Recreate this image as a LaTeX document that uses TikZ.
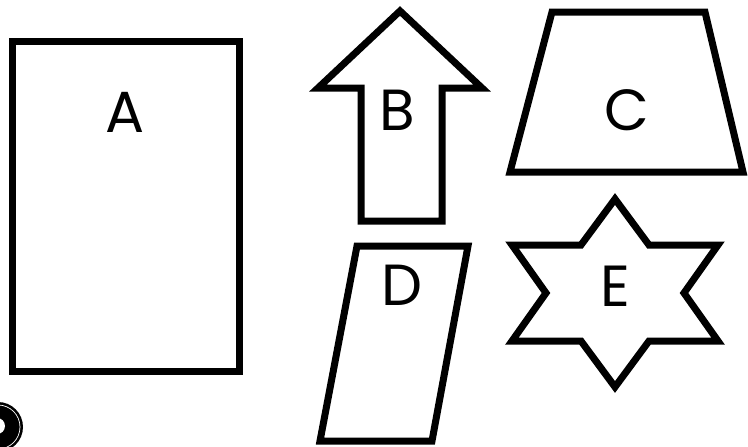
\documentclass[tikz,border=0pt]{standalone}
\usepackage{fontspec}
\setmainfont{Poppins}
\begin{document}
\begin{tikzpicture}[x=1pt, y=-1pt,
  outline/.style={draw=black, line width=7pt, line join=miter},
  letter/.style={font=\fontsize{58}{60}\selectfont, inner sep=0pt}]

\useasboundingbox (0,0) rectangle (748,447);

% Rectangle A
\draw[outline] (12,41) rectangle (239,371);
\node[letter] (labA) at (125,112) {A};

% Arrow B
\draw[outline] (400,11) -- (482,88) -- (442,88) -- (442,221) -- (361,221)
  -- (361,88) -- (318,88) -- cycle;
\node[letter] (labB) at (397,110) {B};

% Trapezoid C
\draw[outline] (552,12) -- (705,12) -- (743,172) -- (510,172) -- cycle;
\node[letter] (labC) at (627,110) {C};

% Parallelogram D
\draw[outline] (357,246) -- (468,246) -- (432,441) -- (320,441) -- cycle;
\node[letter] (labD) at (402,285) {D};

% Star E
\draw[outline] (615,199) -- (649,245) -- (718,245) -- (684,293) -- (718,341)
  -- (649,341) -- (615,387) -- (581,341) -- (512,341) -- (546,293)
  -- (512,245) -- (581,245) -- cycle;
\node[letter] (labE) at (615,286) {E};

% Badge (cut off)
\fill[black] (-2,427) circle (25);
\draw[white, line width=0.7pt] (-2,427) circle (22);
\fill[white] (-3,426) circle (8);

\end{tikzpicture}
\end{document}
